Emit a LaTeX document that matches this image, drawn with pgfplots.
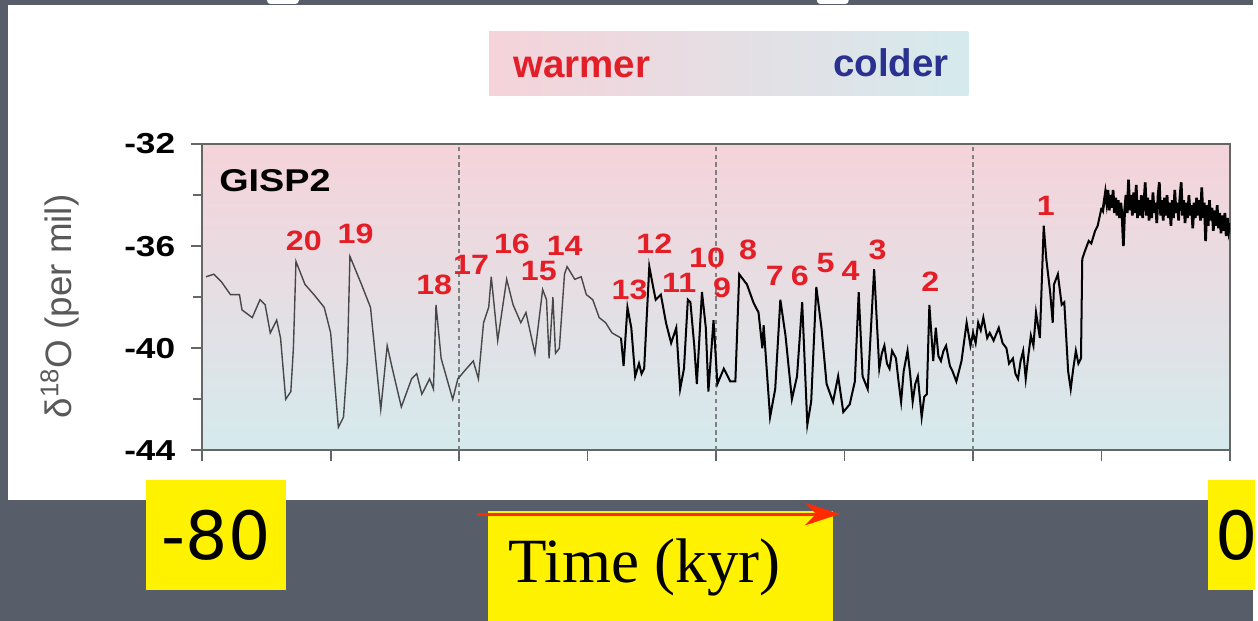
\documentclass[border=0pt]{standalone}
\usepackage{pgfplots}
\pgfplotsset{compat=1.18}
\usepackage{fontspec}
\setmainfont{Liberation Sans}
\newfontfamily\timesfont{Liberation Serif}
\newfontfamily\boxfont{DejaVu Sans}
\usetikzlibrary{arrows.meta}

\definecolor{slate}{RGB}{88,93,106}
\definecolor{warmpink}{RGB}{245,211,218}
\definecolor{midgrey}{RGB}{230,225,230}
\definecolor{coldblue}{RGB}{213,234,237}
\definecolor{warmred}{RGB}{226,30,40}
\definecolor{colderblue}{RGB}{43,49,144}
\definecolor{numred}{RGB}{228,30,38}
\definecolor{arrowred}{RGB}{255,42,0}

\tikzset{lbl/.style={text=numred, font=\fontsize{16}{16}\selectfont\bfseries, xscale=1.15, inner sep=0}}

\begin{document}
\begin{tikzpicture}
% slide background, white panel, warmer/colder bar (1 unit = 1 px)
\begin{scope}[x=0.02cm,y=0.02cm]
  \useasboundingbox (0,0) rectangle (1258,623);
  \fill[slate] (0,0) rectangle (1258,623);
  \fill[white] (8,121) rectangle (1258,618);
  \fill[white, rounded corners=2pt] (268,619) rectangle (300,628);
  \fill[white, rounded corners=2pt] (820,619) rectangle (852,628);
  \shade[left color=warmpink, middle color=midgrey, right color=coldblue] (491,527) rectangle (972,591);
  \node[anchor=base west, inner sep=0, text=warmred, font=\fontsize{22}{22}\selectfont\bfseries] at (515,545) {warmer};
  \node[anchor=base west, inner sep=0, text=colderblue, font=\fontsize{22}{22}\selectfont\bfseries] at (836,546) {colder};
  % plot area background
  \shade[top color=warmpink, middle color=midgrey, bottom color=coldblue] (203,171) rectangle (1235,478.5);
\end{scope}

\begin{axis}[
  at={(4.06cm,3.42cm)}, anchor=south west,
  scale only axis, width=20.64cm, height=6.15cm,
  xmin=-80, xmax=0, ymin=-44, ymax=-32,
  xtick={-80,-70,...,0}, xticklabels={},
  ytick={-44,-40,-36,-32}, yticklabels={-44,-40,-36,-32},
  minor ytick={-42,-38,-34},
  tick pos=left, tick align=outside,
  major tick length=0.22cm, minor tick length=0.18cm,
  axis line style={draw=black!60, line width=1pt},
  every tick/.style={black!60, line width=1pt},
  yticklabel style={font=\fontsize{16.5}{16.5}\selectfont\bfseries, xscale=1.22, xshift=-0.14cm},
  ylabel={δ\textsuperscript{18}O (per mil)},
  ylabel style={font=\fontsize{21}{21}\selectfont, text=black!65,
    at={(axis description cs:-0.1386,0.47)}, anchor=center},
]
\draw[black!50, dash pattern=on 2.5pt off 2pt, line width=0.8pt] (axis cs:-60,-44) -- (axis cs:-60,-32);
\draw[black!50, dash pattern=on 2.5pt off 2pt, line width=0.8pt] (axis cs:-40,-44) -- (axis cs:-40,-32);
\draw[black!50, dash pattern=on 2.5pt off 2pt, line width=0.8pt] (axis cs:-20,-44) -- (axis cs:-20,-32);

% older part: thin grey line
\addplot[black!72, line width=0.8pt] coordinates {
(-79.7,-37.2) (-79.1,-37.1) (-78.5,-37.4) (-77.8,-37.9) (-77.1,-37.9) (-76.9,-38.5)
(-76.1,-38.8) (-75.5,-38.1) (-75.1,-38.3) (-74.7,-39.4) (-74.2,-38.9) (-73.9,-39.6)
(-73.5,-42.0) (-73.1,-41.7) (-72.9,-40.0) (-72.7,-36.6) (-72.0,-37.5) (-71.3,-37.9)
(-70.5,-38.4) (-70.0,-39.4) (-69.4,-43.1) (-69.0,-42.7) (-68.7,-40.5) (-68.5,-36.4)
(-67.6,-37.5) (-66.9,-38.4) (-66.1,-42.4) (-65.6,-39.9) (-65.2,-40.8) (-64.5,-42.3)
(-63.7,-41.2) (-63.3,-41.0) (-62.9,-41.8) (-62.3,-41.2) (-62.0,-41.6) (-61.8,-38.3)
(-61.4,-40.4) (-60.5,-42.0) (-60.1,-41.2) (-59.6,-40.9) (-58.9,-40.5) (-58.5,-41.2)
(-58.1,-39.0) (-57.7,-38.4) (-57.5,-37.2) (-57.0,-39.7) (-56.3,-37.3) (-55.8,-38.3)
(-55.2,-39.0) (-54.8,-38.6) (-54.1,-40.2) (-53.5,-37.7) (-53.2,-38.1) (-53.0,-40.4)
(-52.7,-38.0) (-52.5,-40.2) (-52.2,-40.0) (-51.8,-37.1) (-51.6,-36.8) (-51.0,-37.3)
(-50.5,-37.2) (-50.1,-37.9) (-49.6,-38.1) (-49.1,-38.8) (-48.6,-39.0) (-48.1,-39.4)
(-47.4,-39.6)
};

% younger part: black line
\addplot[black, line width=1.15pt] coordinates {
(-47.4,-39.6) (-47.2,-40.7) (-46.9,-38.4) (-46.6,-39.2) (-46.3,-41.1) (-46.0,-40.6)
(-45.8,-41.0) (-45.6,-40.8) (-45.2,-36.8) (-44.9,-37.6) (-44.7,-38.1) (-44.3,-37.9)
(-43.9,-39.0) (-43.5,-39.8) (-43.1,-39.2) (-42.8,-41.6) (-42.5,-40.8) (-42.2,-38.1)
(-42.0,-38.2) (-41.7,-39.9) (-41.5,-41.4) (-41.1,-37.8) (-40.8,-39.2) (-40.6,-41.7)
(-40.2,-38.9) (-39.9,-41.4) (-39.4,-40.8) (-38.9,-41.3) (-38.5,-41.3) (-38.2,-37.1)
(-37.6,-37.5) (-37.1,-38.2) (-36.7,-38.6) (-36.4,-40.0) (-36.3,-39.1) (-35.8,-42.7)
(-35.4,-41.6) (-35.0,-38.1) (-34.6,-39.5) (-34.1,-42.0) (-33.7,-41.1) (-33.3,-38.2)
(-32.9,-43.0) (-32.6,-42.1) (-32.2,-37.6) (-31.8,-39.2) (-31.4,-41.4) (-30.9,-42.1)
(-30.5,-41.1) (-30.1,-42.5) (-29.6,-42.2) (-29.2,-41.3) (-28.9,-37.8) (-28.6,-41.1)
(-28.2,-41.6) (-27.7,-36.9) (-27.3,-40.8) (-27.1,-40.2) (-26.9,-39.9) (-26.7,-40.6)
(-26.5,-40.8) (-26.3,-40.1) (-26.0,-40.4) (-25.8,-41.3) (-25.6,-42.1) (-25.4,-40.9)
(-25.1,-40.1) (-24.9,-41.0) (-24.7,-42.1) (-24.5,-41.4) (-24.3,-41.1) (-24.0,-42.7)
(-23.8,-41.9) (-23.6,-41.8) (-23.4,-38.3) (-23.1,-40.5) (-22.9,-39.2) (-22.7,-40.3)
(-22.5,-40.5) (-22.3,-40.1) (-22.1,-39.9) (-21.8,-40.7) (-21.6,-40.9) (-21.3,-41.3)
(-20.9,-40.5) (-20.5,-39.0) (-20.2,-39.9) (-20.0,-39.4) (-19.8,-39.8) (-19.6,-39.0)
(-19.4,-39.3) (-19.2,-38.8) (-18.9,-39.6) (-18.7,-39.4) (-18.4,-39.7) (-18.0,-39.2)
(-17.7,-39.8) (-17.4,-40.0) (-17.2,-40.6) (-16.9,-40.4) (-16.7,-41.0) (-16.5,-41.2)
(-16.3,-40.5) (-16.1,-40.1) (-15.9,-41.2) (-15.7,-40.3) (-15.5,-39.5) (-15.3,-39.9)
(-15.1,-38.6) (-14.8,-39.6) (-14.5,-35.2) (-14.3,-36.5) (-14.0,-37.8) (-13.8,-39.0)
(-13.7,-37.5) (-13.4,-37.1) (-13.1,-38.3) (-12.9,-38.2) (-12.6,-40.9) (-12.4,-41.6)
(-12.2,-40.8) (-12.0,-40.1) (-11.8,-40.6) (-11.6,-40.4) (-11.5,-36.5) (-11.3,-36.2)
(-11.0,-35.8) (-10.8,-35.9) (-10.5,-35.4) (-10.3,-35.2) (-10.0,-34.5)
};

% Holocene: dense noisy record
\addplot[black, line width=1.5pt] coordinates {
(-10.0,-34.5) (-9.9,-34.6) (-9.7,-33.9) (-9.6,-34.3)
(-9.5,-33.8) (-9.4,-34.6) (-9.3,-34.0) (-9.2,-34.5) (-9.1,-33.8) (-9.0,-34.7)
(-8.9,-34.1) (-8.8,-34.8) (-8.7,-34.2) (-8.6,-34.9) (-8.5,-34.3) (-8.4,-34.8)
(-8.3,-36.0) (-8.2,-34.6) (-8.1,-34.0) (-8.0,-34.7) (-7.9,-33.4) (-7.8,-34.6)
(-7.7,-34.0) (-7.6,-34.8) (-7.5,-33.9) (-7.4,-34.7) (-7.3,-33.6) (-7.2,-34.9)
(-7.1,-34.2) (-7.0,-34.8) (-6.9,-34.0) (-6.8,-34.9) (-6.7,-34.3) (-6.6,-33.5)
(-6.5,-34.8) (-6.4,-34.1) (-6.3,-35.0) (-6.2,-34.2) (-6.1,-34.9) (-6.0,-33.9)
(-5.9,-34.7) (-5.8,-34.3) (-5.7,-35.1) (-5.6,-34.0) (-5.5,-33.5) (-5.4,-34.8)
(-5.3,-34.2) (-5.2,-35.0) (-5.1,-34.1) (-5.0,-34.8) (-4.9,-34.0) (-4.8,-34.9)
(-4.7,-34.3) (-4.6,-35.2) (-4.5,-34.2) (-4.4,-34.9) (-4.3,-33.8) (-4.2,-34.7)
(-4.1,-34.3) (-4.0,-35.0) (-3.9,-34.1) (-3.8,-33.5) (-3.7,-34.8) (-3.6,-34.2)
(-3.5,-35.1) (-3.4,-34.3) (-3.3,-34.9) (-3.2,-34.0) (-3.1,-34.8) (-3.0,-34.4)
(-2.9,-35.3) (-2.8,-34.3) (-2.7,-34.9) (-2.6,-34.1) (-2.5,-34.8) (-2.4,-34.2)
(-2.3,-35.0) (-2.2,-33.7) (-2.1,-34.9) (-2.0,-34.3) (-1.9,-35.8) (-1.8,-34.4)
(-1.7,-35.2) (-1.6,-34.2) (-1.5,-35.0) (-1.4,-34.5) (-1.3,-35.4) (-1.2,-34.6)
(-1.1,-35.2) (-1.0,-34.4) (-0.9,-35.3) (-0.8,-34.7) (-0.7,-35.5) (-0.6,-34.8)
(-0.5,-35.4) (-0.4,-34.7) (-0.3,-35.6) (-0.2,-34.9) (-0.1,-35.4) (0.0,-35.1)
};

\node[anchor=west, inner sep=0, font=\fontsize{18}{18}\selectfont\bfseries, xscale=1.2] at (axis cs:-78.7,-33.45) {GISP2};
\node[lbl] at (axis cs:-72.09,-35.81) {20};
\node[lbl] at (axis cs:-68.06,-35.50) {19};
\node[lbl] at (axis cs:-61.94,-37.53) {18};
\node[lbl] at (axis cs:-59.07,-36.75) {17};
\node[lbl] at (axis cs:-55.89,-35.93) {16};
\node[lbl] at (axis cs:-53.80,-36.98) {15};
\node[lbl] at (axis cs:-51.78,-36.00) {14};
\node[lbl] at (axis cs:-46.74,-37.72) {13};
\node[lbl] at (axis cs:-44.81,-35.89) {12};
\node[lbl] at (axis cs:-42.87,-37.45) {11};
\node[lbl] at (axis cs:-40.70,-36.47) {10};
\node[lbl] at (axis cs:-39.53,-37.64) {9};
\node[lbl] at (axis cs:-37.52,-36.16) {8};
\node[lbl] at (axis cs:-35.43,-37.18) {7};
\node[lbl] at (axis cs:-33.49,-37.18) {6};
\node[lbl] at (axis cs:-31.47,-36.67) {5};
\node[lbl] at (axis cs:-29.53,-36.98) {4};
\node[lbl] at (axis cs:-27.44,-36.16) {3};
\node[lbl] at (axis cs:-23.33,-37.41) {2};
\node[lbl] at (axis cs:-14.34,-34.44) {1};
\end{axis}

% yellow captions and arrow on the slide
\begin{scope}[x=0.02cm,y=0.02cm]
  \fill[yellow] (147,31) rectangle (287,141);
  \node[inner sep=0, font=\boxfont\fontsize{38}{38}\selectfont] at (217,86) {-80};
  \fill[yellow] (1213,31) rectangle (1260,141);
  \node[anchor=west, inner sep=0, font=\boxfont\fontsize{38}{38}\selectfont] at (1220,86) {0};
  \fill[yellow] (490,0) rectangle (836,110);
  \node[anchor=base west, inner sep=0, font=\timesfont\fontsize{36}{36}\selectfont] at (510,38) {Time (kyr)};
  \draw[arrowred, line width=1.7pt, -{Stealth[length=20pt,width=13pt]}] (479,107) -- (843,107);
\end{scope}
\end{tikzpicture}
\end{document}
